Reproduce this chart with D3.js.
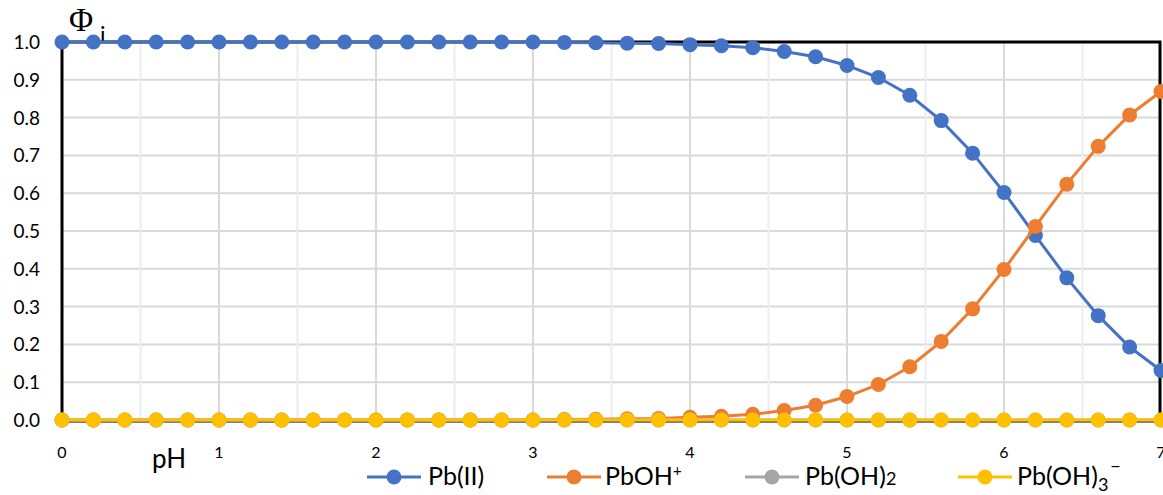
<!DOCTYPE html>
<html>
<head>
<meta charset="utf-8">
<script src="https://cdn.jsdelivr.net/npm/d3@7"></script>
<style>
  body { margin: 0; background: #fff; }
  svg { display: block; }
  text { font-family: Lato, "Open Sans", sans-serif; fill: #000; }
</style>
</head>
<body>
<div id="chart"></div>
<script>
// pH values, every 0.2 from 0 to 7
const pH = [0, 0.2, 0.4, 0.6, 0.8, 1, 1.2, 1.4, 1.6, 1.8, 2, 2.2, 2.4, 2.6, 2.8, 3, 3.2, 3.4, 3.6, 3.8,
  4, 4.2, 4.4, 4.6, 4.8, 5, 5.2, 5.4, 5.6, 5.8, 6, 6.2, 6.4, 6.6, 6.8, 7];

const pbII = [1, 1, 1, 1, 1, 1, 1, 1, 1, 1, 1, 1, 1, 1, 1, 1, 0.999, 0.998, 0.997, 0.996,
  0.993, 0.99, 0.985, 0.975, 0.961, 0.938, 0.906, 0.859, 0.792, 0.706, 0.602, 0.488, 0.376, 0.276, 0.193, 0.131];
const pbOH = [0, 0, 0, 0, 0, 0, 0, 0, 0, 0, 0, 0, 0, 0, 0, 0, 0.001, 0.002, 0.003, 0.004,
  0.007, 0.01, 0.015, 0.025, 0.039, 0.062, 0.094, 0.141, 0.208, 0.294, 0.398, 0.512, 0.624, 0.724, 0.807, 0.869];
const pbOH2 = pH.map(() => 0);
const pbOH3 = pH.map(() => 0);

const xTicks = [0, 1, 2, 3, 4, 5, 6, 7];
const yTicks = [0, 0.1, 0.2, 0.3, 0.4, 0.5, 0.6, 0.7, 0.8, 0.9, 1.0];

const series = [
  { key: "pbII", values: pbII, color: "#4472c4" },
  { key: "pbOH", values: pbOH, color: "#ed7d31" },
  { key: "pbOH2", values: pbOH2, color: "#a5a5a5" },
  { key: "pbOH3", values: pbOH3, color: "#ffc000" }
];

const width = 1163, height = 495;
const svg = d3.select("#chart").append("svg")
  .attr("width", width)
  .attr("height", height);

const x = d3.scaleLinear().domain([0, 7]).range([62, 1161]);
const y = d3.scaleLinear().domain([0, 1]).range([420, 42]);

// grid
const grid = svg.append("g");
grid.selectAll("line.h")
  .data(yTicks.slice(1, -1))
  .enter().append("line")
  .attr("x1", x(0)).attr("x2", x(7))
  .attr("y1", d => y(d)).attr("y2", d => y(d))
  .attr("stroke", "#d9d9d9").attr("stroke-width", 2);

const halfSteps = d3.range(0.5, 7, 0.5);
grid.selectAll("line.v")
  .data(halfSteps)
  .enter().append("line")
  .attr("x1", d => x(d)).attr("x2", d => x(d))
  .attr("y1", y(0)).attr("y2", y(1))
  .attr("stroke", d => Number.isInteger(d) ? "#d9d9d9" : "#ededed")
  .attr("stroke-width", 2);

// frame
svg.append("rect")
  .attr("x", x(0)).attr("y", y(1))
  .attr("width", x(7) - x(0) - 1).attr("height", y(0) - y(1) + 1)
  .attr("fill", "none")
  .attr("stroke", "#000")
  .attr("stroke-width", 3);

// axis labels
svg.append("g").selectAll("text")
  .data(yTicks)
  .enter().append("text")
  .attr("x", 40)
  .attr("y", d => y(d) + 7)
  .attr("text-anchor", "end")
  .style("font-size", "19px")
  .text(d => d.toFixed(1));

svg.append("g").selectAll("text")
  .data(xTicks)
  .enter().append("text")
  .attr("x", d => x(d))
  .attr("y", 458)
  .attr("text-anchor", "middle")
  .style("font-size", "16px")
  .text(d => d);

svg.append("text")
  .attr("x", 152).attr("y", 468)
  .style("font-size", "26px")
  .text("pH");

svg.append("text")
  .attr("x", 69).attr("y", 31)
  .style("font-family", "'Liberation Serif', 'DejaVu Serif', serif")
  .style("font-size", "33px")
  .text("Φ");
svg.append("text")
  .attr("x", 100).attr("y", 43)
  .style("font-size", "23px")
  .text("i");

// series
const line = d3.line()
  .x((d, i) => x(pH[i]))
  .y(d => y(d));

series.forEach(s => {
  const g = svg.append("g");
  g.append("path")
    .datum(s.values)
    .attr("d", line)
    .attr("fill", "none")
    .attr("stroke", s.color)
    .attr("stroke-width", 3);
  g.selectAll("circle")
    .data(s.values)
    .enter().append("circle")
    .attr("cx", (d, i) => x(pH[i]))
    .attr("cy", d => y(d))
    .attr("r", 7.5)
    .attr("fill", s.color);
});

// legend
const legendItems = [
  { color: "#4472c4", x0: 367, tx: 428, parts: [["Pb(II)"]] },
  { color: "#ed7d31", x0: 547, tx: 605, parts: [["PbOH"], ["+", "sup"]] },
  { color: "#a5a5a5", x0: 745, tx: 805, parts: [["Pb(OH)"], ["2", "small"]] },
  { color: "#ffc000", x0: 958, tx: 1017, parts: [["Pb(OH)"], ["3", "sub"], ["−", "sup2"]] }
];
const legend = svg.append("g");
legendItems.forEach(item => {
  legend.append("line")
    .attr("x1", item.x0).attr("x2", item.x0 + 54)
    .attr("y1", 477).attr("y2", 477)
    .attr("stroke", item.color).attr("stroke-width", 3);
  legend.append("circle")
    .attr("cx", item.x0 + 27).attr("cy", 477).attr("r", 7.5)
    .attr("fill", item.color);
  const t = legend.append("text")
    .attr("x", item.tx).attr("y", 485)
    .style("font-size", "25px");
  item.parts.forEach(p => {
    const ts = t.append("tspan").text(p[0]);
    if (p[1] === "sup") ts.attr("dy", -9).style("font-size", "15px");
    if (p[1] === "small") ts.style("font-size", "18px");
    if (p[1] === "sub") ts.attr("dy", 6).style("font-size", "18px");
    if (p[1] === "sup2") ts.attr("dy", -19).attr("dx", 2).style("font-size", "18px");
  });
});
</script>
</body>
</html>
